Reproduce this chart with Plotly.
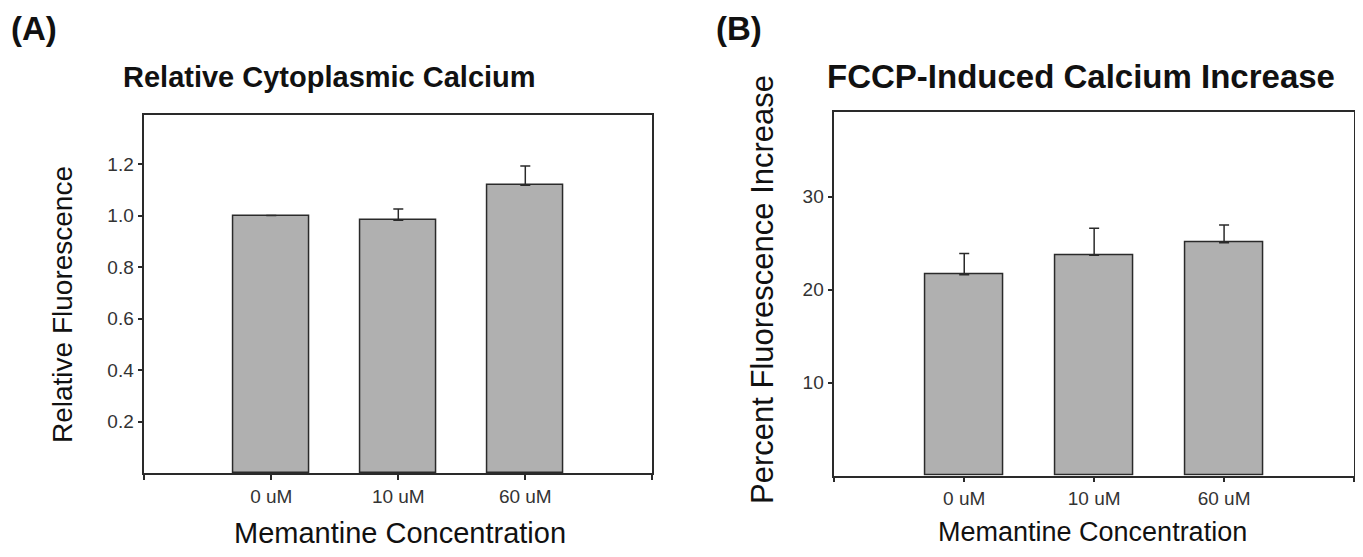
import plotly.graph_objects as go

categories = ["0 uM", "10 uM", "60 uM"]
rel_fluor = [1.0, 0.982, 1.117]
rel_fluor_err = [0.0, 0.043, 0.075]
pct_increase = [21.6, 23.7, 25.05]
pct_increase_err = [2.3, 2.9, 1.9]
x_pos = [1, 2, 3]
x_tickvals = [0, 1, 2, 3, 4]
x_ticktext = [""] + categories + [""]
yA_ticks = [0.2, 0.4, 0.6, 0.8, 1.0, 1.2]
yA_ticktext = ["0.2", "0.4", "0.6", "0.8", "1.0", "1.2"]
yB_ticks = [10, 20, 30]

# page body has an 8px margin; figure is sized to fit inside the window
OFF = 8
W, H = 1363 - 2 * OFF, 557 - 2 * OFF
BAR = "#b0b0b0"
LINE = "#2a2a2a"
TICKFONT = dict(family="Liberation Sans Narrow, Arial Narrow, Liberation Sans, Arial", size=19, color="#333333")

fig = go.Figure()
fig.add_trace(go.Bar(
    x=x_pos, y=rel_fluor, width=0.6, marker=dict(color=BAR, line=dict(color=LINE, width=1.5)),
    error_y=dict(type="data", array=rel_fluor_err, arrayminus=[0, 0, 0], symmetric=False,
                 color=LINE, thickness=1.5, width=5),
    xaxis="x", yaxis="y", showlegend=False, hoverinfo="skip"))
fig.add_trace(go.Bar(
    x=x_pos, y=pct_increase, width=0.6, marker=dict(color=BAR, line=dict(color=LINE, width=1.5)),
    error_y=dict(type="data", array=pct_increase_err, arrayminus=[0, 0, 0], symmetric=False,
                 color=LINE, thickness=1.5, width=5),
    xaxis="x2", yaxis="y2", showlegend=False, hoverinfo="skip"))

def px(x):
    return (x - OFF) / W

def py(y):
    return 1 - (y - OFF) / H

axcommon = dict(showline=True, linecolor=LINE, linewidth=1.5, mirror=True, showgrid=False,
                zeroline=False, ticks="outside", ticklen=5, tickwidth=1.5, tickcolor=LINE,
                tickfont=TICKFONT)

fig.update_layout(
    width=W, height=H, margin=dict(l=0, r=0, t=0, b=0),
    paper_bgcolor="white", plot_bgcolor="white",
    xaxis=dict(domain=[px(144.3), px(652.3)], range=[0, 4], tickvals=x_tickvals, ticktext=x_ticktext,
               anchor="y", **axcommon),
    yaxis=dict(domain=[py(473.2), py(115)], range=[0, 1.39], tickvals=yA_ticks, ticktext=yA_ticktext,
               anchor="x", **axcommon),
    xaxis2=dict(domain=[px(834.3), px(1354)], range=[0, 4], tickvals=x_tickvals, ticktext=x_ticktext,
                anchor="y2", **axcommon),
    yaxis2=dict(domain=[py(475.7), py(112.3)], range=[0, 39.07], tickvals=yB_ticks,
                anchor="x2", **axcommon),
    bargap=0,
)

def ann(text, x, y, size, bold=False, angle=0, family="Liberation Sans, Arial", yanchor="middle"):
    fig.add_annotation(text=f"<b>{text}</b>" if bold else text, x=px(x), y=py(y),
                       xref="paper", yref="paper", showarrow=False, textangle=angle,
                       xanchor="center", yanchor=yanchor, borderpad=0,
                       font=dict(family=family, size=size, color="#111111"))

ann("(A)", 34, 9, 33, bold=True, yanchor="top")
ann("(B)", 739, 9, 33, bold=True, yanchor="top")
ann("Relative Cytoplasmic Calcium", 329, 77, 29, bold=True)
ann("FCCP-Induced Calcium Increase", 1081, 76, 33, bold=True)
ann("Relative Fluorescence", 62, 305, 28, angle=-90)
ann("Percent Fluorescence Increase", 762, 290, 31, angle=-90)
ann("Memantine Concentration", 400, 533, 29)
ann("Memantine Concentration", 1092, 548, 27, yanchor="bottom")

fig.write_html("out.html")
